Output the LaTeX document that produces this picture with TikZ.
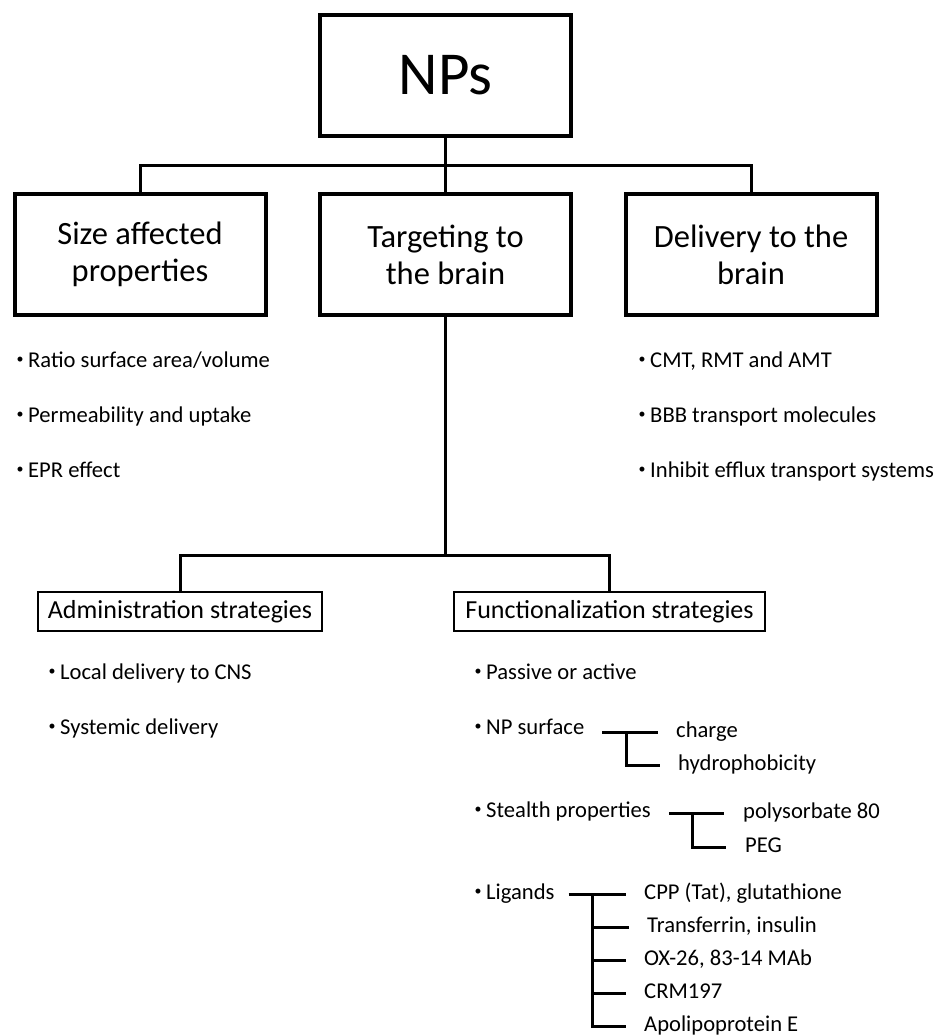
\documentclass[tikz,border=0pt]{standalone}
\usepackage{fontspec}
\setmainfont{Carlito}
\usetikzlibrary{calc}
\newcommand\bul{\makebox[12pt][l]{\hspace{0.5pt}\raisebox{0.16em}{\scalebox{0.62}{\textbullet}}}}
\begin{document}
\begin{tikzpicture}[x=1pt,y=-1pt,
  bigbox/.style={draw, line width=4pt, minimum width=251pt, minimum height=121pt, inner sep=0pt, align=center, font=\fontsize{32.5}{37}\selectfont},
  smallbox/.style={draw, line width=2pt, minimum height=39pt, inner sep=0pt, align=center, font=\fontsize{26}{30}\selectfont},
  conn/.style={line width=3pt},
  br/.style={line width=3pt},
  item/.style={anchor=base west, inner sep=0pt, font=\fontsize{22.6}{26}\selectfont},
  sub/.style={anchor=west, inner sep=0pt, text height=14pt, text depth=4pt, font=\fontsize{22.6}{26}\selectfont},
]
\useasboundingbox (0,0) rectangle (937,1035);

% top level
\node[bigbox, font=\fontsize{61}{66}\selectfont] (nps) at (445.5,75.5) {NPs};
\node[bigbox] (size) at (140,254.5) {Size affected\\properties};
\node[bigbox] (target) at (445.5,254.5) {Targeting to\\the brain};
\node[bigbox] (deliv) at (751,254.5) {Delivery to the\\brain};
\coordinate (hub1) at (445.5,166);
\draw[conn] (nps.south) -- (target.north);
\draw[conn] (size.north) |- (hub1) -| (deliv.north);

% bullets under top boxes
\node[item] (s1) at (16,367) {\bul Ratio surface area/volume};
\node[item] (s2) at (16,422) {\bul Permeability and uptake};
\node[item] (s3) at (16,477) {\bul EPR effect};
\node[item] (d1) at (638,367) {\bul CMT, RMT and AMT};
\node[item] (d2) at (638,422) {\bul BBB transport molecules};
\node[item] (d3) at (638,477) {\bul Inhibit efflux transport systems};

% second level
\coordinate (hub2) at (445.5,555);
\draw[conn] (target.south) -- (hub2);
\node[smallbox, minimum width=284pt] (admin) at (180,611.5) {Administration strategies};
\node[smallbox, minimum width=311pt] (func) at (609.5,611.5) {Functionalization strategies};
\draw[conn] (admin.north) |- (hub2) -| (func.north);

\node[item] (a1) at (48,679) {\bul Local delivery to CNS};
\node[item] (a2) at (48,734) {\bul Systemic delivery};

\node[item] (pass) at (474,679) {\bul Passive or active};
\node[item] (npsurf) at (474,734) {\bul NP surface};
\node[item] (stealth) at (474,817) {\bul Stealth properties};
\node[item] (lig) at (474,899) {\bul Ligands};

% sub labels
\node[sub] (charge) at (676,732) {charge};
\node[sub] (hydro) at (678,765) {hydrophobicity};
\node[sub] (poly) at (743,813) {polysorbate 80};
\node[sub] (peg) at (745,847) {PEG};
\node[sub] (cpp) at (644,894) {CPP (Tat), glutathione};
\node[sub] (transf) at (647,927) {Transferrin, insulin};
\node[sub] (ox) at (644,960) {OX-26, 83-14 MAb};
\node[sub] (crm) at (644,993) {CRM197};
\node[sub] (apo) at (644,1026) {Apolipoprotein E};

% brackets
\coordinate (j1) at (626,732);
\draw[br] ($(npsurf.east |- j1)+(18,0)$) -- ([xshift=-18pt]charge.west);
\draw[br] (j1) |- ([xshift=-18pt]hydro.west);

\coordinate (j2) at (692,813);
\draw[br] ($(stealth.east |- j2)+(18,0)$) -- ([xshift=-19pt]poly.west);
\draw[br] (j2) |- ([xshift=-19pt]peg.west);

\coordinate (j3) at (592,894);
\draw[br] ($(lig.east |- j3)+(14,0)$) -- ([xshift=-18pt]cpp.west);
\draw[br] (j3) |- ([xshift=-18pt]apo.west);
\foreach \n in {transf,ox,crm} \draw[br] (j3 |- \n.west) -- ([xshift=-18pt]\n.west);
\end{tikzpicture}
\end{document}
